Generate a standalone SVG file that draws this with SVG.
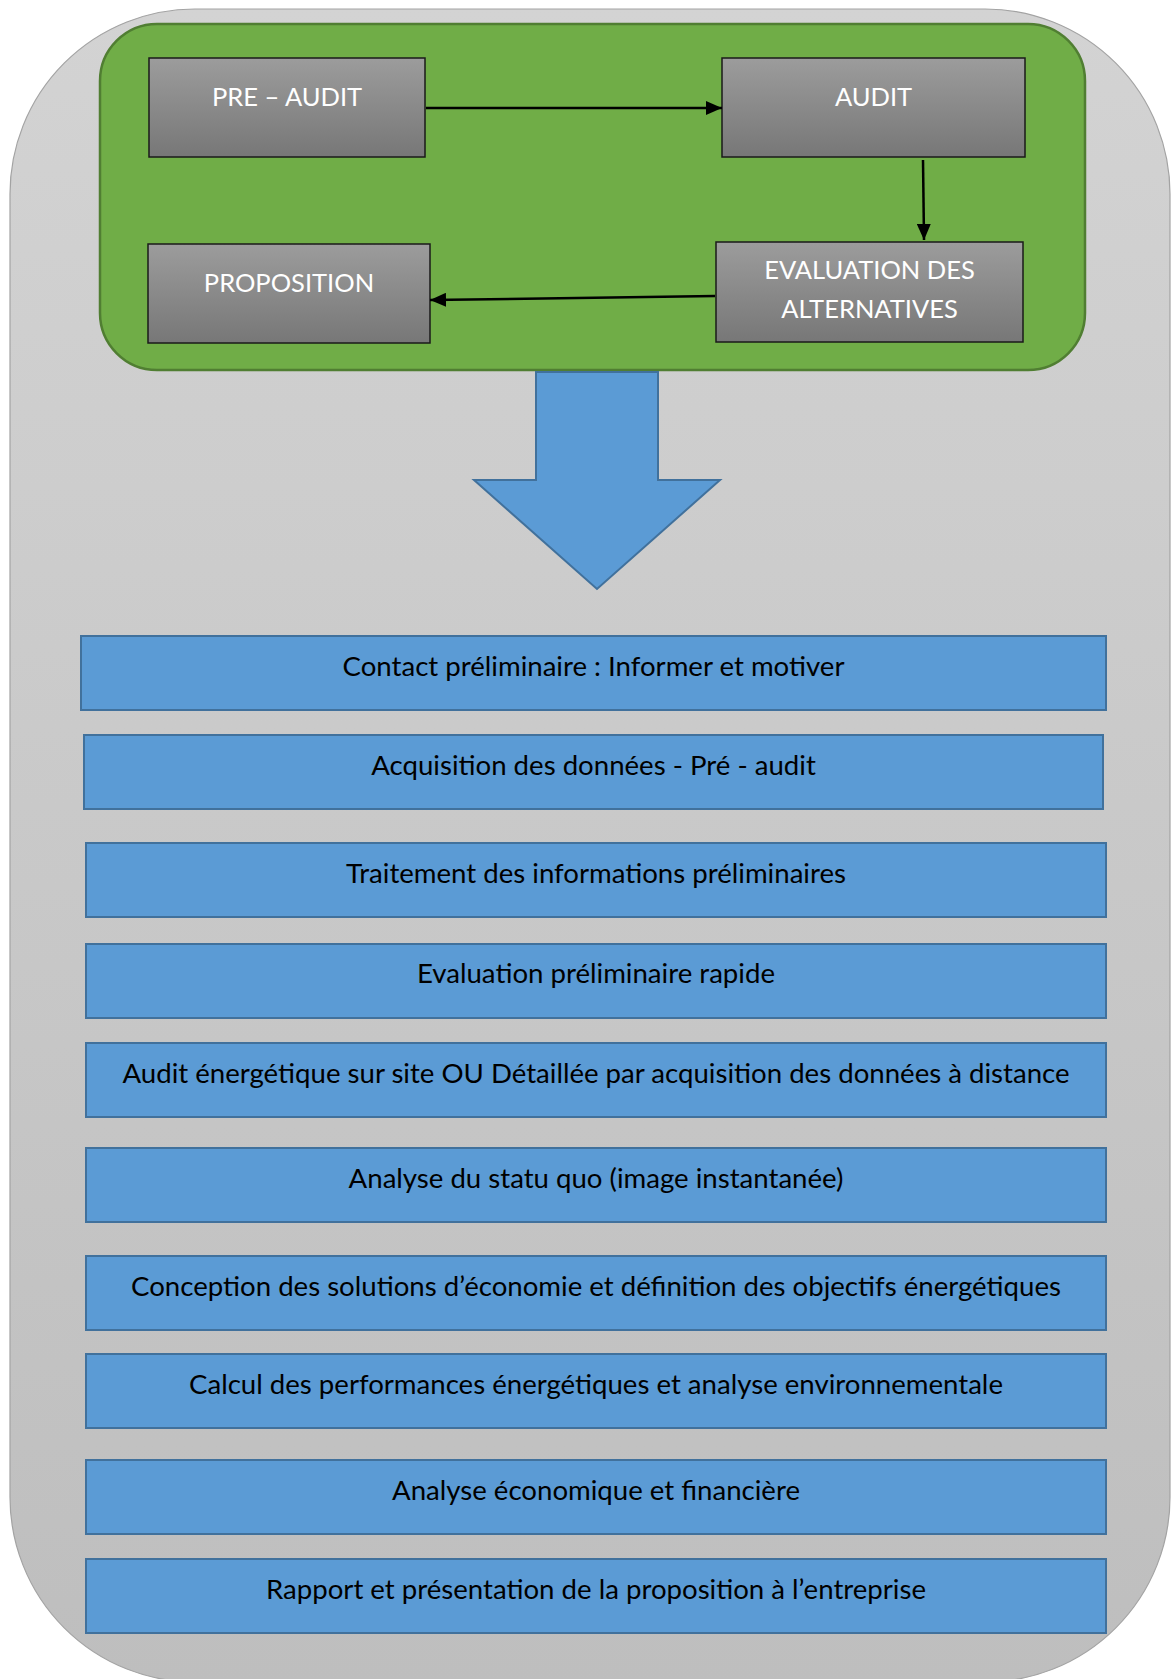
<svg xmlns="http://www.w3.org/2000/svg" width="1171" height="1679" viewBox="0 0 1171 1679">
  <style>
    .gbox { stroke: #1a1a1a; stroke-width: 1.5; }
    .wt { font-family: Lato, "Open Sans", "Liberation Sans", sans-serif; font-size: 25.5px; fill: #ffffff; text-anchor: middle; }
    .bbox { fill: #5b9bd5; stroke: #41719c; stroke-width: 2; }
    .bt { font-family: Lato, "Open Sans", "Liberation Sans", sans-serif; font-size: 27.6px; fill: #000000; text-anchor: middle; }
    .conn { stroke: #000000; stroke-width: 2.5; fill: none; }
  </style>
  <defs>
    <linearGradient id="bg" x1="0" y1="0" x2="0" y2="1">
      <stop offset="0" stop-color="#d3d3d3"/>
      <stop offset="1" stop-color="#bebebe"/>
    </linearGradient>
    <linearGradient id="gr" x1="0" y1="0" x2="0" y2="1">
      <stop offset="0" stop-color="#9c9c9c"/>
      <stop offset="1" stop-color="#777777"/>
    </linearGradient>
    <marker id="ah" markerUnits="userSpaceOnUse" markerWidth="16" markerHeight="14" refX="16" refY="7" orient="auto">
      <path d="M0,0 L16,7 L0,14 z" fill="#000000"/>
    </marker>
  </defs>

  <g id="background">
    <rect x="10" y="9" width="1160" height="1673" rx="185" ry="185" fill="url(#bg)" stroke="#a3a3a3" stroke-width="1.2"/>
  </g>

  <g id="green-panel">
    <rect x="100" y="24" width="985" height="346" rx="57" ry="57" fill="#70ad47" stroke="#507e32" stroke-width="2.5"/>
  </g>

  <g id="node-preaudit">
    <rect class="gbox" x="149" y="58" width="276" height="99" fill="url(#gr)"/>
    <text class="wt" x="287" y="106">PRE – AUDIT</text>
  </g>
  <g id="node-audit">
    <rect class="gbox" x="722" y="58" width="303" height="99" fill="url(#gr)"/>
    <text class="wt" x="873.5" y="106">AUDIT</text>
  </g>
  <g id="node-evaluation">
    <rect class="gbox" x="716" y="242" width="307" height="100" fill="url(#gr)"/>
    <text class="wt" x="869.5" y="279">EVALUATION DES</text>
    <text class="wt" x="869.5" y="318">ALTERNATIVES</text>
  </g>
  <g id="node-proposition">
    <rect class="gbox" x="148" y="244" width="282" height="99" fill="url(#gr)"/>
    <text class="wt" x="289" y="292">PROPOSITION</text>
  </g>

  <g id="connectors">
    <line class="conn" x1="426" y1="108" x2="722" y2="108" marker-end="url(#ah)"/>
    <line class="conn" x1="923" y1="160" x2="924" y2="240" marker-end="url(#ah)"/>
    <line class="conn" x1="715" y1="296" x2="430" y2="300" marker-end="url(#ah)"/>
  </g>

  <g id="big-arrow">
    <polygon points="536,372 658,372 658,480 720,480 597,589 474,480 536,480" fill="#5b9bd5" stroke="#41719c" stroke-width="2"/>
  </g>

  <g id="step-1">
    <rect class="bbox" x="81" y="636" width="1025" height="74"/>
    <text class="bt" x="593.5" y="676">Contact préliminaire : Informer et motiver</text>
  </g>
  <g id="step-2">
    <rect class="bbox" x="84" y="735" width="1019" height="74"/>
    <text class="bt" x="593.5" y="775">Acquisition des données - Pré - audit</text>
  </g>
  <g id="step-3">
    <rect class="bbox" x="86" y="843" width="1020" height="74"/>
    <text class="bt" x="596" y="883">Traitement des informations préliminaires</text>
  </g>
  <g id="step-4">
    <rect class="bbox" x="86" y="944" width="1020" height="74"/>
    <text class="bt" x="596" y="983">Evaluation préliminaire rapide</text>
  </g>
  <g id="step-5">
    <rect class="bbox" x="86" y="1043" width="1020" height="74"/>
    <text class="bt" x="596" y="1083">Audit énergétique sur site OU Détaillée par acquisition des données à distance</text>
  </g>
  <g id="step-6">
    <rect class="bbox" x="86" y="1148" width="1020" height="74"/>
    <text class="bt" x="596" y="1188">Analyse du statu quo (image instantanée)</text>
  </g>
  <g id="step-7">
    <rect class="bbox" x="86" y="1256" width="1020" height="74"/>
    <text class="bt" x="596" y="1296">Conception des solutions d’économie et définition des objectifs énergétiques</text>
  </g>
  <g id="step-8">
    <rect class="bbox" x="86" y="1354" width="1020" height="74"/>
    <text class="bt" x="596" y="1394">Calcul des performances énergétiques et analyse environnementale</text>
  </g>
  <g id="step-9">
    <rect class="bbox" x="86" y="1460" width="1020" height="74"/>
    <text class="bt" x="596" y="1500">Analyse économique et financière</text>
  </g>
  <g id="step-10">
    <rect class="bbox" x="86" y="1559" width="1020" height="74"/>
    <text class="bt" x="596" y="1599">Rapport et présentation de la proposition à l’entreprise</text>
  </g>
</svg>
